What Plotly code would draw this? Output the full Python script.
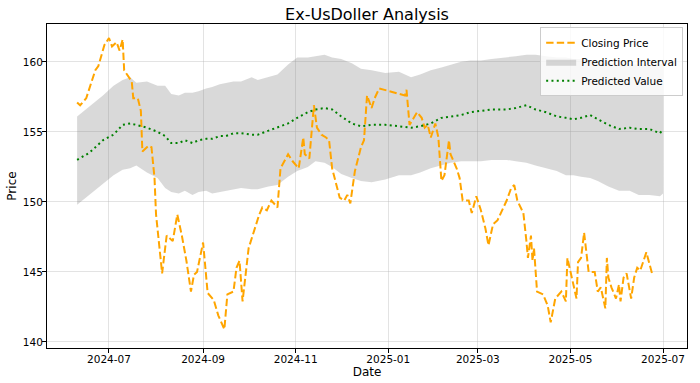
import plotly.graph_objects as go

close_dates = [
    "2024-06-10","2024-06-12","2024-06-16","2024-06-18","2024-06-22","2024-06-24","2024-06-26","2024-06-28",
    "2024-07-01","2024-07-03","2024-07-06","2024-07-08","2024-07-10","2024-07-11","2024-07-16","2024-07-17",
    "2024-07-20","2024-07-22","2024-07-23","2024-07-27","2024-07-29","2024-07-31",
    "2024-08-01","2024-08-03","2024-08-05","2024-08-08","2024-08-12","2024-08-15","2024-08-18","2024-08-21",
    "2024-08-24","2024-08-26","2024-08-28",
    "2024-09-01","2024-09-04","2024-09-08","2024-09-11","2024-09-15","2024-09-17","2024-09-21","2024-09-23",
    "2024-09-25","2024-09-27",
    "2024-10-01","2024-10-05","2024-10-08","2024-10-10","2024-10-13","2024-10-16","2024-10-20","2024-10-22",
    "2024-10-27","2024-10-30",
    "2024-11-03","2024-11-06","2024-11-07","2024-11-10","2024-11-13","2024-11-15","2024-11-18","2024-11-21",
    "2024-11-23","2024-11-25","2024-11-30",
    "2024-12-03","2024-12-05","2024-12-07","2024-12-10","2024-12-14","2024-12-16","2024-12-18","2024-12-21",
    "2024-12-23","2024-12-26",
    "2025-01-12","2025-01-13","2025-01-15","2025-01-18","2025-01-20","2025-01-23","2025-01-25","2025-01-27",
    "2025-01-29",
    "2025-02-01","2025-02-03","2025-02-05","2025-02-07","2025-02-10","2025-02-11","2025-02-15","2025-02-17",
    "2025-02-19","2025-02-23","2025-02-25","2025-02-28",
    "2025-03-03","2025-03-06","2025-03-08","2025-03-11","2025-03-14","2025-03-17","2025-03-20","2025-03-23",
    "2025-03-25","2025-03-27","2025-03-31",
    "2025-04-02","2025-04-03","2025-04-05","2025-04-06","2025-04-07","2025-04-09","2025-04-13","2025-04-16",
    "2025-04-18","2025-04-21","2025-04-25","2025-04-28","2025-04-29",
    "2025-05-05","2025-05-06","2025-05-08","2025-05-10","2025-05-12","2025-05-13","2025-05-17","2025-05-19",
    "2025-05-21","2025-05-24","2025-05-25","2025-05-26","2025-05-28","2025-05-31",
    "2025-06-02","2025-06-03","2025-06-05","2025-06-07","2025-06-10","2025-06-12","2025-06-14","2025-06-16",
    "2025-06-20","2025-06-22","2025-06-24",
]
close_values = [
    157.1,156.9,157.4,158.1,159.4,159.7,160.5,161.2,
    161.7,161.1,161.4,160.8,161.6,159.4,158.6,157.4,157.4,156.5,153.6,154.0,153.9,151.7,
    149.1,147.1,144.9,147.6,147.2,149.1,147.6,145.8,143.6,144.8,145.0,
    147.1,143.5,143.0,141.9,140.9,143.4,143.6,145.3,145.8,142.9,
    146.7,148.1,149.1,149.6,149.4,150.1,149.6,152.4,153.4,152.9,
    152.4,154.6,153.4,153.1,156.9,155.3,154.8,154.6,154.4,152.4,150.3,
    150.1,150.5,149.9,152.2,153.9,154.4,157.6,156.7,157.4,158.1,
    157.6,158.0,155.5,156.0,156.4,156.0,155.3,155.5,154.6,
    155.6,154.6,151.5,151.9,154.4,153.4,152.4,151.7,150.1,150.1,149.2,150.4,
    149.4,148.1,146.9,148.4,148.7,149.4,150.1,151.0,151.2,150.1,149.2,
    147.2,146.0,147.6,145.8,146.7,143.6,143.4,142.6,141.4,143.1,143.6,142.9,146.0,
    143.1,145.7,146.0,147.8,146.2,145.0,145.0,143.6,143.9,142.4,146.0,144.6,143.9,143.1,
    144.1,142.9,144.6,144.9,143.1,144.6,145.3,145.1,146.4,145.5,144.8,
]

pred_dates = [
    "2024-06-10","2024-06-18","2024-06-27","2024-07-04","2024-07-10","2024-07-15","2024-07-19","2024-07-26",
    "2024-08-02","2024-08-07","2024-08-11","2024-08-16","2024-08-20","2024-08-25","2024-08-29",
    "2024-09-03","2024-09-07","2024-09-12","2024-09-16","2024-09-21","2024-09-26",
    "2024-10-03","2024-10-07","2024-10-14","2024-10-20","2024-10-27",
    "2024-11-02","2024-11-09","2024-11-14","2024-11-20","2024-11-25",
    "2024-12-01","2024-12-08","2024-12-14","2024-12-21","2024-12-30",
    "2025-01-08","2025-01-16","2025-01-22","2025-01-29",
    "2025-02-05","2025-02-11","2025-02-18","2025-02-24",
    "2025-03-03","2025-03-10","2025-03-20","2025-03-26",
    "2025-04-02","2025-04-08","2025-04-15","2025-04-22","2025-04-28",
    "2025-05-03","2025-05-08","2025-05-14","2025-05-19","2025-05-26",
    "2025-06-02","2025-06-09","2025-06-15","2025-06-22","2025-06-29","2025-07-01",
]
pred_values = [
    153.0,153.5,154.4,154.8,155.5,155.6,155.5,155.3,
    155.0,154.7,154.2,154.2,154.4,154.2,154.4,
    154.5,154.5,154.7,154.7,154.9,154.9,
    154.8,154.8,155.1,155.3,155.6,
    156.0,156.4,156.6,156.7,156.6,
    156.1,155.6,155.4,155.5,155.5,
    155.4,155.3,155.4,155.6,
    156.0,156.1,156.2,156.4,
    156.5,156.6,156.6,156.7,
    156.9,156.6,156.4,156.1,156.0,
    155.9,156.0,156.2,155.9,155.5,
    155.2,155.3,155.2,155.2,154.9,155.2,
]
upper_values = [
    156.1,156.8,157.6,158.3,158.7,158.9,158.5,158.6,
    158.3,158.3,157.7,157.6,157.8,157.8,157.9,
    158.1,158.2,158.4,158.5,158.6,158.6,
    158.9,158.7,158.9,159.1,159.8,
    160.3,160.3,160.4,160.5,160.3,
    160.2,159.9,159.5,159.4,159.2,
    159.3,158.9,159.1,159.4,
    159.6,159.8,160.0,160.1,
    160.1,160.2,160.3,160.4,
    160.5,160.5,160.4,160.3,160.3,
    160.2,160.2,160.1,160.0,159.9,
    159.8,159.8,159.8,159.8,159.8,159.9,
]
lower_values = [
    149.8,150.5,151.3,151.9,152.3,152.4,152.6,152.1,
    151.7,151.0,150.7,150.6,150.8,150.5,150.7,
    150.8,150.6,150.7,150.8,150.9,151.0,
    150.9,150.9,151.1,151.2,151.8,
    152.2,152.5,152.9,152.8,152.5,
    152.0,151.7,151.5,151.4,151.6,
    151.9,151.9,152.1,152.4,
    152.6,152.8,152.9,152.9,
    152.9,153.0,153.0,152.9,
    152.8,152.6,152.4,152.2,151.9,
    151.9,151.8,151.7,151.5,151.1,
    150.8,150.8,150.5,150.5,150.4,150.6,
]

tick_vals = ["2024-07-01","2024-09-01","2024-11-01","2025-01-01","2025-03-01","2025-05-01","2025-07-01"]
tick_text = ["2024-07","2024-09","2024-11","2025-01","2025-03","2025-05","2025-07"]
y_ticks = [140, 145, 150, 155, 160]

FONT = "DejaVu Sans"

fig = go.Figure()
fig.add_trace(go.Scatter(
    x=pred_dates, y=upper_values, mode="lines", line=dict(width=0),
    showlegend=False, hoverinfo="skip",
))
fig.add_trace(go.Scatter(
    x=pred_dates, y=lower_values, mode="lines", line=dict(width=0),
    fill="tonexty", fillcolor="rgba(128,128,128,0.3)",
    name="Prediction Interval", legendrank=2,
))
fig.add_trace(go.Scatter(
    x=close_dates, y=close_values, mode="lines",
    line=dict(color="#FFA500", width=2, dash="7.4px,3.2px"),
    name="Closing Price", legendrank=1,
))
fig.add_trace(go.Scatter(
    x=pred_dates, y=pred_values, mode="lines",
    line=dict(color="#008000", width=2, dash="2px,3.3px"),
    name="Predicted Value", legendrank=3,
))

fig.update_layout(
    width=700, height=383,
    margin=dict(l=47, r=13, t=24, b=35),
    paper_bgcolor="white", plot_bgcolor="white",
    font=dict(family=FONT, size=10, color="black"),
    title=dict(text="Ex-UsDoller Analysis", x=0.5, xref="paper", xanchor="center",
               y=0.9634, yref="container", yanchor="middle", automargin=False,
               font=dict(size=16, family=FONT, color="black")),
    legend=dict(x=0.994, y=0.99, xanchor="right", yanchor="top", traceorder="normal",
                bgcolor="rgba(255,255,255,0.8)", bordercolor="#cccccc", borderwidth=1,
                font=dict(size=10.5, family=FONT), tracegroupgap=0,
                itemwidth=30),
    showlegend=True,
)
fig.update_xaxes(
    type="date", range=["2024-05-21 04:00", "2025-07-16 19:00"],
    tickvals=tick_vals, ticktext=tick_text, automargin=False,
    showline=True, mirror=True, linecolor="black", linewidth=1,
    ticks="outside", ticklen=4, tickcolor="black", ticklabelstandoff=-3,
    showgrid=True, gridcolor="rgba(176,176,176,0.35)", gridwidth=1,
    zeroline=False,
    title=dict(text="Date", font=dict(size=12, family=FONT), standoff=1),
    tickfont=dict(size=10.5, family=FONT),
)
fig.update_yaxes(
    range=[139.57, 162.7],
    tickvals=y_ticks, automargin=False,
    showline=True, mirror=True, linecolor="black", linewidth=1,
    ticks="outside", ticklen=4, tickcolor="black", ticklabelstandoff=-3,
    showgrid=True, gridcolor="rgba(176,176,176,0.35)", gridwidth=1,
    zeroline=False,
    title=dict(text="Price", font=dict(size=12, family=FONT), standoff=3),
    tickfont=dict(size=10.5, family=FONT),
)

fig.write_html(
    "out.html",
    config={"displayModeBar": False},
    post_script="document.body.style.margin='0';document.body.style.padding='0';",
)
